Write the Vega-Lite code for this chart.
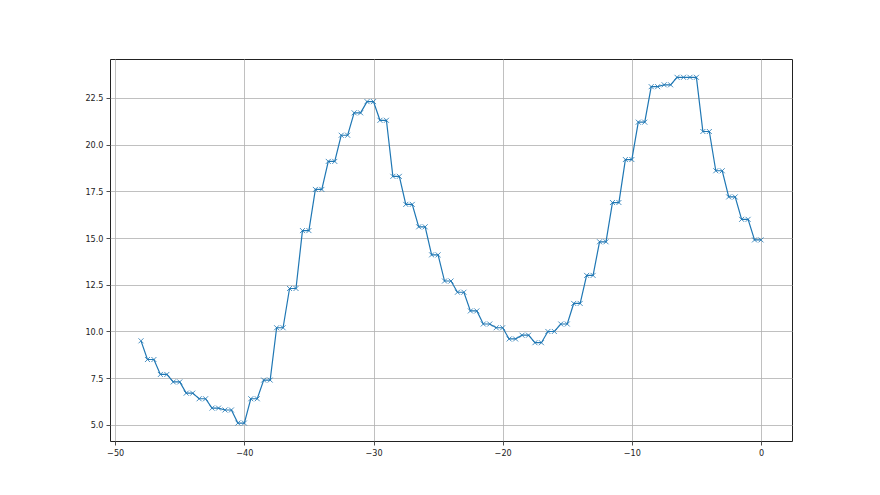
{
  "$schema": "https://vega.github.io/schema/vega-lite/v6.json",
  "width": 682,
  "height": 382,
  "autosize": {"type": "none"},
  "padding": {"left": 110, "top": 59, "right": 88, "bottom": 54},
  "background": "white",
  "config": {
    "view": {"stroke": "#222222", "strokeWidth": 1},
    "axis": {
      "labelFont": "DejaVu Sans Condensed, DejaVu Sans",
      "labelFontSize": 9,
      "labelColor": "#222222",
      "tickColor": "#222222",
      "tickSize": 4,
      "tickWidth": 0.8,
      "gridColor": "#b0b0b0",
      "gridWidth": 0.8,
      "domain": false,
      "title": null,
      "labelPadding": 3
    }
  },
  "data": {
    "values": [
      {"x": -48, "y": 9.5},
      {"x": -47.5, "y": 8.5}, {"x": -47, "y": 8.5},
      {"x": -46.5, "y": 7.7}, {"x": -46, "y": 7.7},
      {"x": -45.5, "y": 7.3}, {"x": -45, "y": 7.3},
      {"x": -44.5, "y": 6.7}, {"x": -44, "y": 6.7},
      {"x": -43.5, "y": 6.4}, {"x": -43, "y": 6.4},
      {"x": -42.5, "y": 5.9}, {"x": -42, "y": 5.9},
      {"x": -41.5, "y": 5.8}, {"x": -41, "y": 5.8},
      {"x": -40.5, "y": 5.1}, {"x": -40, "y": 5.1},
      {"x": -39.5, "y": 6.4}, {"x": -39, "y": 6.4},
      {"x": -38.5, "y": 7.4}, {"x": -38, "y": 7.4},
      {"x": -37.5, "y": 10.2}, {"x": -37, "y": 10.2},
      {"x": -36.5, "y": 12.3}, {"x": -36, "y": 12.3},
      {"x": -35.5, "y": 15.4}, {"x": -35, "y": 15.4},
      {"x": -34.5, "y": 17.6}, {"x": -34, "y": 17.6},
      {"x": -33.5, "y": 19.1}, {"x": -33, "y": 19.1},
      {"x": -32.5, "y": 20.5}, {"x": -32, "y": 20.5},
      {"x": -31.5, "y": 21.7}, {"x": -31, "y": 21.7},
      {"x": -30.5, "y": 22.3}, {"x": -30, "y": 22.3},
      {"x": -29.5, "y": 21.3}, {"x": -29, "y": 21.3},
      {"x": -28.5, "y": 18.3}, {"x": -28, "y": 18.3},
      {"x": -27.5, "y": 16.8}, {"x": -27, "y": 16.8},
      {"x": -26.5, "y": 15.6}, {"x": -26, "y": 15.6},
      {"x": -25.5, "y": 14.1}, {"x": -25, "y": 14.1},
      {"x": -24.5, "y": 12.7}, {"x": -24, "y": 12.7},
      {"x": -23.5, "y": 12.1}, {"x": -23, "y": 12.1},
      {"x": -22.5, "y": 11.1}, {"x": -22, "y": 11.1},
      {"x": -21.5, "y": 10.4}, {"x": -21, "y": 10.4},
      {"x": -20.5, "y": 10.2}, {"x": -20, "y": 10.2},
      {"x": -19.5, "y": 9.6}, {"x": -19, "y": 9.6},
      {"x": -18.5, "y": 9.8}, {"x": -18, "y": 9.8},
      {"x": -17.5, "y": 9.4}, {"x": -17, "y": 9.4},
      {"x": -16.5, "y": 10.0}, {"x": -16, "y": 10.0},
      {"x": -15.5, "y": 10.4}, {"x": -15, "y": 10.4},
      {"x": -14.5, "y": 11.5}, {"x": -14, "y": 11.5},
      {"x": -13.5, "y": 13.0}, {"x": -13, "y": 13.0},
      {"x": -12.5, "y": 14.8}, {"x": -12, "y": 14.8},
      {"x": -11.5, "y": 16.9}, {"x": -11, "y": 16.9},
      {"x": -10.5, "y": 19.2}, {"x": -10, "y": 19.2},
      {"x": -9.5, "y": 21.2}, {"x": -9, "y": 21.2},
      {"x": -8.5, "y": 23.1}, {"x": -8, "y": 23.1},
      {"x": -7.5, "y": 23.2}, {"x": -7, "y": 23.2},
      {"x": -6.5, "y": 23.6}, {"x": -6, "y": 23.6},
      {"x": -5.5, "y": 23.6}, {"x": -5, "y": 23.6},
      {"x": -4.5, "y": 20.7}, {"x": -4, "y": 20.7},
      {"x": -3.5, "y": 18.6}, {"x": -3, "y": 18.6},
      {"x": -2.5, "y": 17.2}, {"x": -2, "y": 17.2},
      {"x": -1.5, "y": 16.0}, {"x": -1, "y": 16.0},
      {"x": -0.5, "y": 14.9}, {"x": 0, "y": 14.9}
    ]
  },
  "encoding": {
    "x": {
      "field": "x",
      "type": "quantitative",
      "scale": {"domain": [-50.4, 2.4], "nice": false, "zero": false},
      "axis": {"values": [-50, -40, -30, -20, -10, 0], "format": "d"}
    },
    "y": {
      "field": "y",
      "type": "quantitative",
      "scale": {"domain": [4.14, 24.58], "nice": false, "zero": false},
      "axis": {"values": [5, 7.5, 10, 12.5, 15, 17.5, 20, 22.5], "format": ".1f"}
    }
  },
  "layer": [
    {
      "mark": {"type": "line", "color": "#1f77b4", "strokeWidth": 1.2, "clip": true}
    },
    {
      "mark": {
        "type": "point",
        "shape": "M-1,-1L1,1M-1,1L1,-1",
        "size": 25,
        "filled": false,
        "stroke": "#1f77b4",
        "strokeWidth": 1,
        "opacity": 0.8,
        "clip": true
      }
    }
  ]
}
